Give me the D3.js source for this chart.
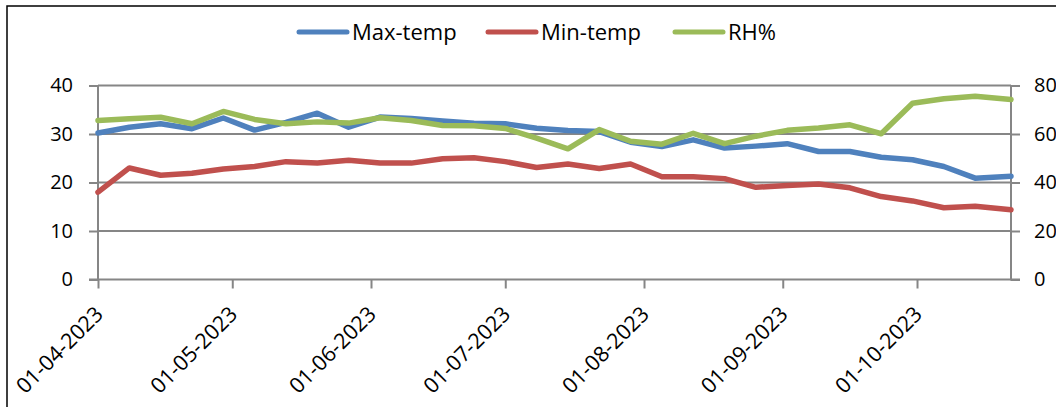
<!DOCTYPE html>
<html>
<head>
<meta charset="utf-8">
<script src="https://cdn.jsdelivr.net/npm/d3@7"></script>
<style>
  html, body { margin: 0; padding: 0; background: #fff; }
  svg { display: block; }
  text { font-family: "Open Sans", sans-serif; fill: #000; }
</style>
</head>
<body>
<svg id="chart" width="1056" height="407"></svg>
<script>
// Weekly observations
const dates = [
  "2023-04-01","2023-04-08","2023-04-15","2023-04-22","2023-04-29",
  "2023-05-06","2023-05-13","2023-05-20","2023-05-27","2023-06-03",
  "2023-06-10","2023-06-17","2023-06-24","2023-07-01","2023-07-08",
  "2023-07-15","2023-07-22","2023-07-29","2023-08-05","2023-08-12",
  "2023-08-19","2023-08-26","2023-09-02","2023-09-09","2023-09-16",
  "2023-09-23","2023-09-30","2023-10-07","2023-10-14","2023-10-22"
];
const maxTemp = [30.2,31.4,32.1,31.1,33.3,30.8,32.4,34.3,31.4,33.5,
                 33.2,32.7,32.2,32.1,31.2,30.7,30.5,28.3,27.4,28.8,
                 27.1,27.5,28.0,26.4,26.4,25.2,24.7,23.3,20.9,21.3];
const minTemp = [18.0,23.0,21.5,21.9,22.8,23.3,24.3,24.0,24.6,24.0,
                 24.0,24.9,25.1,24.3,23.1,23.8,22.9,23.8,21.2,21.2,
                 20.8,19.0,19.4,19.7,18.9,17.1,16.2,14.8,15.1,14.4];
const rh      = [65.6,66.3,66.9,64.2,69.3,66.0,64.2,65.0,64.5,66.7,
                 65.6,63.5,63.4,62.3,58.3,53.9,61.8,57.0,55.8,60.3,
                 56.0,59.1,61.5,62.5,63.8,60.1,72.7,74.5,75.6,74.2];
const xTickLabels = ["01-04-2023","01-05-2023","01-06-2023","01-07-2023",
                     "01-08-2023","01-09-2023","01-10-2023"];
const leftTicks = [0, 10, 20, 30, 40];
const rightTicks = [0, 20, 40, 60, 80];

const seriesNames = ["Max-temp", "Min-temp", "RH%"];
const seriesColors = ["#4F81BD", "#C0504D", "#9BBB59"];

const parse = d3.timeParse("%Y-%m-%d");
const parseLabel = d3.timeParse("%d-%m-%Y");
const dateVals = dates.map(parse);

const svg = d3.select("#chart");
const axisColor = "#868686";
const font = "Open Sans";

// Outer chart frame
svg.append("rect")
  .attr("x", 7).attr("y", 6)
  .attr("width", 1100).attr("height", 500)
  .attr("fill", "none").attr("stroke", "#000").attr("stroke-width", 1.5);

const plot = { left: 98, right: 1011, top: 85.5, bottom: 279.5 };

const x = d3.scaleTime()
  .domain(d3.extent(dateVals))
  .range([plot.left, plot.right]);
const yL = d3.scaleLinear().domain([0, 40]).range([plot.bottom, plot.top]);
const yR = d3.scaleLinear().domain([0, 80]).range([plot.bottom, plot.top]);

// Horizontal gridlines
svg.append("g")
  .selectAll("line")
  .data(leftTicks.filter(d => d > 0))
  .join("line")
  .attr("x1", plot.left).attr("x2", plot.right)
  .attr("y1", d => yL(d)).attr("y2", d => yL(d))
  .attr("stroke", axisColor).attr("stroke-width", 2);

// Left axis
const gL = svg.append("g")
  .attr("transform", `translate(${plot.left},0)`)
  .call(d3.axisLeft(yL).tickValues(leftTicks).tickSize(9).tickPadding(16));
// Right axis
const gR = svg.append("g")
  .attr("transform", `translate(${plot.right},0)`)
  .call(d3.axisRight(yR).tickValues(rightTicks).tickSize(9).tickPadding(14));
// Bottom axis
const gB = svg.append("g")
  .attr("transform", `translate(0,${plot.bottom})`)
  .call(d3.axisBottom(x).tickValues(xTickLabels.map(parseLabel))
        .tickFormat(d3.timeFormat("%d-%m-%Y")).tickSize(9));

[gL, gR, gB].forEach(g => {
  g.select(".domain").attr("stroke", axisColor).attr("stroke-width", 2);
  g.selectAll(".tick line").attr("stroke", axisColor).attr("stroke-width", 2);
  g.selectAll("text").attr("font-family", font).attr("fill", "#000");
});
gL.selectAll("text").attr("font-size", 20);
gR.selectAll("text").attr("font-size", 20);
gB.selectAll("text")
  .attr("font-size", 21.5)
  .attr("text-anchor", "end")
  .attr("dy", null).attr("y", null)
  .attr("transform", "translate(6,36) rotate(-45)");

gL.select(".domain").attr("d", `M-9,${plot.bottom}H0V${plot.top}`);
gR.select(".domain").attr("d", `M9,${plot.bottom}H0V${plot.top}`);
gB.select(".domain").attr("d", `M${plot.left},0H${plot.right}`);

// Series lines
const seriesData = [
  { values: maxTemp, y: yL },
  { values: minTemp, y: yL },
  { values: rh, y: yR }
];
seriesData.forEach((s, i) => {
  const line = d3.line()
    .x((d, j) => x(dateVals[j]))
    .y(d => s.y(d));
  svg.append("path")
    .datum(s.values)
    .attr("d", line)
    .attr("fill", "none")
    .attr("stroke", seriesColors[i])
    .attr("stroke-width", 5.5)
    .attr("stroke-linejoin", "round")
    .attr("stroke-linecap", "round");
});

// Legend
const legendItems = [
  { x: 297, name: seriesNames[0], color: seriesColors[0] },
  { x: 486, name: seriesNames[1], color: seriesColors[1] },
  { x: 673, name: seriesNames[2], color: seriesColors[2] }
];
const lg = svg.append("g");
legendItems.forEach(it => {
  lg.append("line")
    .attr("x1", it.x + 2).attr("x2", it.x + 50)
    .attr("y1", 32).attr("y2", 32)
    .attr("stroke", it.color).attr("stroke-width", 5)
    .attr("stroke-linecap", "round");
  lg.append("text")
    .attr("x", it.x + 55).attr("y", 40)
    .attr("font-family", font)
    .attr("font-size", 22)
    .text(it.name);
});
</script>
</body>
</html>
